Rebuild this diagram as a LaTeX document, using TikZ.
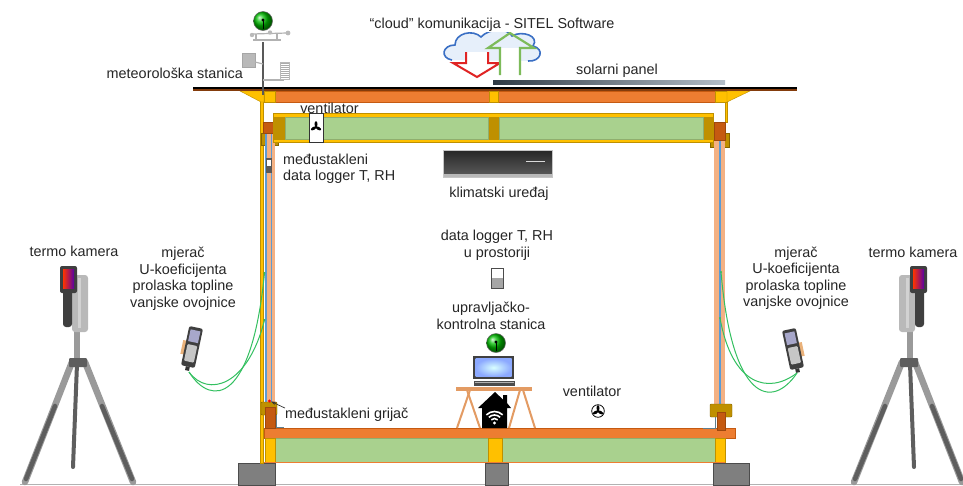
\documentclass[tikz,border=0pt]{standalone}
\usepackage{fontspec}
\setmainfont{Liberation Sans}
\usetikzlibrary{arrows.meta}

\definecolor{beam}{HTML}{ED7D31}
\definecolor{beamedge}{HTML}{C55A11}
\definecolor{blockred}{HTML}{C55A11}
\definecolor{gold}{HTML}{FFC000}
\definecolor{olive}{HTML}{BF9000}
\definecolor{insul}{HTML}{A9D18E}
\definecolor{insuledge}{HTML}{8FAE6E}
\definecolor{salmon}{HTML}{F4B183}
\definecolor{glass}{HTML}{5B9BD5}
\definecolor{footing}{HTML}{7F7F7F}
\definecolor{roofbrown}{HTML}{843C0C}
\definecolor{cable}{HTML}{33C060}
\definecolor{wood}{HTML}{E39B63}
\definecolor{cloudblue}{HTML}{3A6FC4}
\definecolor{cloudfill}{HTML}{E6EFFA}
\definecolor{arrowred}{HTML}{E02424}
\definecolor{arrowgreen}{HTML}{7DBB5A}
\definecolor{legdark}{HTML}{5E5E5E}
\definecolor{leglight}{HTML}{9A9A9A}
\definecolor{camdark}{HTML}{3F3F3F}
\definecolor{trim}{HTML}{5F7F8F}
\definecolor{panelA}{HTML}{2F3A44}
\definecolor{panelB}{HTML}{B4BEC8}

\tikzset{
  pics/globeicon/.style={code={
    \shade[ball color=green!75!black] (0,0) circle (9.5);
    \draw[black!60, line width=0.5] (0,0) circle (9.5);
    \draw[black, line width=1] (0,-1) -- (0,8);
    \fill[black] (0,-1) circle (1.7);
  }},
  pics/fanicon/.style={code={
    \foreach \a in {90,210,330}{\fill[black, rotate=\a] (2.9,0) ellipse (2.9 and 1.5);}
    \fill[black] (0,0) circle (1.3);
  }},
  pics/umeter/.style={code={
    \fill[orange!45!brown!60] (-10,-5) rectangle (-5,9);
    \fill[camdark, rounded corners=2] (-7,-20) rectangle (7,20);
    \fill[blue!25!gray!55] (-5,-17) rectangle (5,-5);
    \fill[gray!45, rounded corners=1] (-5,-2) rectangle (5,15);
    \fill[black!80] (-2,20) rectangle (2,24);
  }},
  pics/thermocam/.style={code={
    % tripod legs
    \draw[line width=6.5, leglight, line cap=round] (-5,32) -- (-52,152);
    \draw[line width=6.5, leglight, line cap=round] (8,32) -- (56,152);
    \draw[line width=4.5, legdark, line cap=round] (-22,76) -- (-51,149);
    \draw[line width=4.5, legdark, line cap=round] (25,76) -- (55,149);
    \draw[line width=4, legdark, line cap=round] (0,34) -- (-4,137);
    % centre column and head
    \fill[leglight] (-3,-2) rectangle (3,34);
    \fill[legdark, rounded corners=1] (-8,28) rectangle (10,37);
    % grip
    \fill[gray!55, rounded corners=3] (-5,-55) rectangle (11,2);
    \fill[gray!35] (1,-52) rectangle (4,-2);
    % camera body with display
    \fill[camdark, rounded corners=2] (-17,-64) rectangle (0,-37);
    \shade[left color=red!80!yellow, right color=violet!70!blue] (-14,-61) rectangle (-3,-42);
    \fill[camdark, rounded corners=3] (-14,-40) rectangle (-5,-3);
  }}
}

\begin{document}
\begin{tikzpicture}[x=1pt,y=-1pt,
  lbl/.style={font=\fontsize{14.4}{16.5}\selectfont, inner sep=0pt, align=center, text=black!85},
  timber/.style={fill=beam, draw=beamedge, line width=0.5},
  post/.style={fill=gold, draw=olive, line width=0.4},
  bracket/.style={fill=olive, draw=olive!70!black, line width=0.4},
  core/.style={fill=insul, draw=insuledge, line width=0.6},
  redblock/.style={fill=blockred, draw=blockred!80!black, line width=0.3},
  base/.style={fill=footing, draw=black!70, line width=0.8},
  wire/.style={cable, line width=1},
  legs/.style={wood, line width=2}]

\useasboundingbox (0,0) rectangle (963,485);
\fill[white] (0,0) rectangle (963,485);

% ground line
\draw[gray!60, line width=0.8] (20,484) -- (963,484);

% ---------- floor ----------
\draw[timber] (264,428) rectangle (735,438);
\draw[core] (275,438) rectangle (488,462);
\draw[core] (502,438) rectangle (715,462);
\draw[post] (265,438) rectangle (275,462);
\draw[post] (488,438) rectangle (502,462);
\draw[post] (715,438) rectangle (725,462);
\draw[beam, line width=0.8] (264,462.5) -- (725,462.5);

% footings
\draw[base] (238,463) rectangle (275,485);
\draw[base] (485,463) rectangle (508,485);
\draw[base] (713,463) rectangle (749,485);

% ---------- left wall ----------
\draw[post] (260.5,101) rectangle (263.5,463);
\draw[bracket] (261,133) rectangle (278,145);
\fill[glass] (265,133) rectangle (267,405);
\fill[salmon] (267,133) rectangle (270.5,405);
\fill[glass] (270.5,133) rectangle (272,405);
\fill[salmon] (272,133) rectangle (275,405);
\draw[redblock] (263.5,122) rectangle (275,133);
\draw[bracket, rounded corners=1] (261,402) rectangle (277,415);
\draw[redblock] (265,407) rectangle (275,428);
\draw[trim, line width=1] (276,415) -- (276,427.5) -- (284,427.5);

% ---------- right wall ----------
\draw[post] (725,102) rectangle (727,122);
\draw[bracket] (710,133) rectangle (729,147);
\fill[salmon] (714,140) rectangle (719,405);
\fill[glass] (719,140) rectangle (721,405);
\fill[salmon] (721,140) rectangle (725,405);
\draw[redblock] (714,122) rectangle (725,140);
\draw[bracket, rounded corners=1] (710,404) rectangle (732,417);
\draw[redblock] (717,412) rectangle (725,430);
\draw[trim, line width=1] (715,417) -- (715,428.5) -- (703,428.5);

% ---------- ceiling ----------
\draw[post] (273,113) rectangle (713,142);
\fill[olive] (273,117) rectangle (285,140);
\fill[olive] (488,117) rectangle (499,140);
\fill[olive] (703,117) rectangle (713,140);
\draw[core] (285,117.5) rectangle (488,139.5);
\draw[core] (499,117.5) rectangle (703,139.5);

% ceiling fan
\draw[fill=white, draw=black!80, line width=0.7] (309,113) rectangle (323,142);
\pic at (316,127) {fanicon};

% ---------- roof ----------
\draw[timber] (264,91) rectangle (727,102);
\draw[post] (264,91) rectangle (275,102);
\draw[post] (489,91) rectangle (498,102);
\draw[post] (715,91) rectangle (727,102);
\draw[post] (240,91) -- (264,91) -- (264,102) -- (261,102) -- cycle;
\draw[post] (727,91) -- (750,91) -- (727,102) -- cycle;
\fill[black] (193,86.5) rectangle (797,88.5);
\fill[roofbrown] (193,88.5) rectangle (797,91);

% solar panel
\shade[left color=panelA, right color=panelB] (493,80) rectangle (725,84);
\node[lbl] (solar) at (617,71) {solarni panel};

% ---------- weather station ----------
\draw[gray!70!black, line width=2] (263,42) -- (263,95);
\draw[gray!60, line width=1.5] (253,40) -- (281,40);
\draw[gray!60, line width=1.2] (252,34) -- (287,33);
\draw[gray!60, line width=1.2] (256,34) -- (256,40);
\draw[gray!60, line width=1.2] (277,33) -- (277,40);
\fill[gray!55] (252,35) circle (2.2);
\fill[gray!55] (270,32.5) circle (2.2);
\fill[gray!55] (288,33) circle (2.4);
\fill[gray!55] (242,53) rectangle (255,67);
\draw[gray!70, line width=0.5] (242,53) rectangle (255,67);
\draw[gray!60, line width=1.2] (255,62) -- (263,64);
\draw[gray!60, line width=1.5] (263,80) -- (284,80);
\fill[white] (280,62) rectangle (289,79);
\foreach \yy in {63,65,...,79}{\draw[gray!65, line width=0.7] (280,\yy) -- (289,\yy);}
\draw[gray!55, line width=0.5] (280,62) rectangle (289,79);
\pic at (263,21) {globeicon};
\node[lbl, anchor=east] (meteo) at (243,73) {meteorološka stanica};

% ---------- cloud link ----------
\fill[cloudfill] (452,60) .. controls (440,58) and (442,45) .. (455,45)
  .. controls (455,33) and (473,29) .. (481,37) .. controls (489,28) and (508,28) .. (512,36)
  .. controls (522,30) and (540,36) .. (533,46) .. controls (545,49) and (541,62) .. (528,61) -- cycle;
\draw[cloudblue, line width=1.6] (452,60) .. controls (440,58) and (442,45) .. (455,45)
  .. controls (455,33) and (473,29) .. (481,37) .. controls (489,28) and (508,28) .. (512,36)
  .. controls (522,30) and (540,36) .. (533,46) .. controls (545,49) and (541,62) .. (528,61);
\draw[arrowred, line width=2, fill=white, line join=miter]
  (466,52) -- (466,63) -- (453,63) -- (477,77) -- (500,63) -- (488,63) -- (488,52);
\fill[white] (501,48) rectangle (519,76);
\draw[arrowgreen, line width=2.2, line join=miter]
  (500,75) -- (500,48) -- (488,48) -- (510,33) -- (534,48) -- (520,48) -- (520,75);
\node[lbl, fill=white, inner sep=1pt] (cloudlbl) at (492,24.5) {“cloud” komunikacija - SITEL Software};

\node[lbl] (vent1) at (329.5,108.5) {ventilator};

% ---------- interior equipment ----------
% interpane logger
\fill[gray!70!black] (266,158) rectangle (272,173);
\fill[white] (267,160) rectangle (271,166);
\node[lbl, anchor=west, align=left] (ilogger) at (283,169) {međustakleni\\data logger T, RH};

% air conditioner
\shade[top color=black!85, bottom color=black!65] (443,150) rectangle (552,175);
\fill[gray!55] (443,174) rectangle (552,177.5);
\draw[gray!45, line width=0.8] (443,150) rectangle (552,177.5);
\draw[white!85!black, line width=1] (526,161) -- (545,161);
\node[lbl] (klima) at (499,194) {klimatski uređaj};

% room logger
\node[lbl] (rlogger) at (497,245.5) {data logger T, RH\\u prostoriji};
\fill[gray!70] (491,278) rectangle (503,288);
\fill[white] (491,268) rectangle (503,278);
\draw[gray!60!black, line width=0.7] (491,268) rectangle (503,288);

% control station
\node[lbl] (station) at (491,316) {upravljačko-\\kontrolna stanica};
\pic at (496,343) {globeicon};
\fill[black!75] (473,356) rectangle (514,379);
\shade[inner color=white!85!cyan, outer color=cyan!25!blue!45] (475.5,358.5) rectangle (511.5,376.5);
\fill[black!70] (474,381) rectangle (515,386);
\fill[gray!60] (475,381.5) rectangle (514,383);
% table
\fill[wood] (456,387) rectangle (532,391);
\draw[legs] (457,428) -- (470,390);
\draw[legs] (467,390) -- (480,428);
\draw[legs] (509,428) -- (520,390);
\draw[legs] (523,390) -- (535,428);
% router house with wifi waves
\fill[black] (478,408) -- (495,392) -- (503,399.5) -- (503,395) -- (507,395) -- (507,403)
  -- (511,408) -- (507,408) -- (507,428) -- (482,428) -- (482,408) -- cycle;
\fill[white] (494.5,423) circle (1.6);
\foreach \r in {4.5,8,11.5}{
  \draw[white, line width=1.6] ({494.5-0.707*\r},{423-0.707*\r}) arc[start angle=225, end angle=315, radius=\r];
}

% floor fan
\node[lbl] (vent2) at (592,391) {ventilator};
\draw[black, line width=0.8] (598,411) circle (6.3);
\pic at (598,411) {fanicon};

% heater
\fill[red] (269.5,401) circle (1.6);
\coordinate (heater) at (271,401.5);
\node[lbl, anchor=west] (grijac) at (285,415) {međustakleni grijač};
\draw[black!80, line width=0.7, -{Stealth[length=5pt,width=3.5pt]}] (grijac.north west) -- (heater);

% ---------- outside: left ----------
\node[lbl] (cam1lbl) at (74,251) {termo kamera};
\pic at (77,330) {thermocam};

\node[lbl] (um1lbl) at (183,278.5) {mjerač\\U-koeficijenta\\prolaska topline\\vanjske ovojnice};
\pic[rotate=-12] at (192,347) {umeter};
\coordinate (um1jack) at (189,372);
\coordinate (s1a) at (264.5,273);
\coordinate (s1b) at (264.5,320);
\draw[wire] (um1jack) .. controls (212,408) and (252,402) .. (s1a);
\draw[wire] (um1jack) .. controls (208,398) and (248,386) .. (s1b);
\fill[cable] (s1a) circle (1.2);
\fill[cable] (s1b) circle (1.2);

% ---------- outside: right ----------
\node[lbl] (cam2lbl) at (913,252) {termo kamera};
\pic[xscale=-1] at (910,330) {thermocam};

\node[lbl] (um2lbl) at (796,278) {mjerač\\U-koeficijenta\\prolaska topline\\vanjske ovojnice};
\pic[rotate=12, xscale=-1] at (793,349) {umeter};
\coordinate (um2jack) at (797,373);
\coordinate (s2a) at (721,272);
\coordinate (s2b) at (720,318);
\draw[wire] (um2jack) .. controls (772,410) and (732,402) .. (s2a);
\draw[wire] (um2jack) .. controls (768,395) and (732,385) .. (s2b);
\fill[cable] (s2a) circle (1.2);
\fill[cable] (s2b) circle (1.2);

\end{tikzpicture}
\end{document}
